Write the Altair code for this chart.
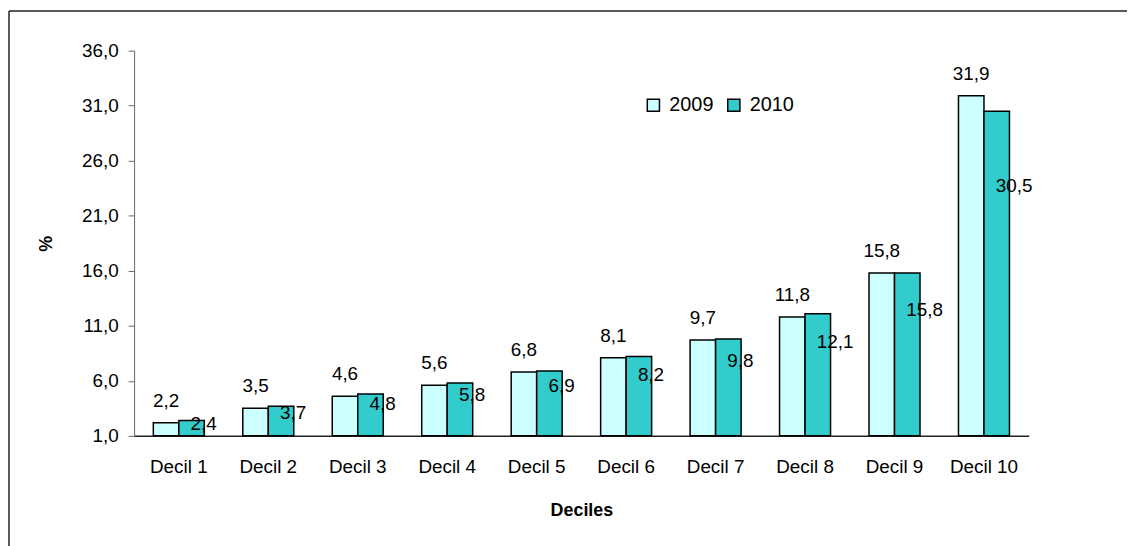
import altair as alt
import pandas as pd

deciles = ["Decil 1", "Decil 2", "Decil 3", "Decil 4", "Decil 5",
           "Decil 6", "Decil 7", "Decil 8", "Decil 9", "Decil 10"]
years = ["2009", "2010"]
values_2009 = [2.2, 3.5, 4.6, 5.6, 6.8, 8.1, 9.7, 11.8, 15.8, 31.9]
values_2010 = [2.4, 3.7, 4.8, 5.8, 6.9, 8.2, 9.8, 12.1, 15.8, 30.5]
y_ticks = [1, 6, 11, 16, 21, 26, 31, 36]

rows = []
for d, a, b in zip(deciles, values_2009, values_2010):
    rows.append({"decil": d, "year": "2009", "value": a})
    rows.append({"decil": d, "year": "2010", "value": b})
df = pd.DataFrame(rows)

FONT = "Liberation Sans"
axis_text = dict(labelFont=FONT, labelFontSize=19, labelColor="black",
                 titleFont=FONT, titleFontSize=18, titleFontWeight="bold",
                 titleColor="black")

x_enc = alt.X("decil:N", sort=deciles,
              scale=alt.Scale(paddingInner=0.43, paddingOuter=0.215),
              axis=alt.Axis(title="Deciles", labelAngle=0, ticks=False,
                            labelPadding=22, titlePadding=25,
                            domainColor="#222222", domainWidth=1.5, **axis_text))
y_scale = alt.Scale(domain=[1, 36], zero=False, nice=False)
color_scale = alt.Scale(domain=years, range=["#CCFFFF", "#33CCCC"])

base = alt.Chart(df)

bars = base.mark_bar(stroke="black", strokeWidth=1.5).encode(
    x=x_enc,
    xOffset=alt.XOffset("year:N", sort=years),
    y=alt.Y("value:Q", scale=y_scale,
            axis=alt.Axis(title="%", values=y_ticks, grid=False,
                          labelExpr="replace(format(datum.value, '.1f'), '.', ',')",
                          tickSize=6, labelPadding=10, titlePadding=26,
                          domainColor="#666666", tickColor="#666666",
                          titleAngle=-90, **axis_text)),
    y2=alt.datum(1),
    color=alt.Color("year:N", scale=color_scale,
                    legend=alt.Legend(title=None, orient="none", direction="horizontal",
                                      legendX=513, legendY=45, symbolType="square",
                                      symbolSize=150, symbolStrokeColor="black",
                                      symbolStrokeWidth=1.5, labelFontSize=20,
                                      labelFont=FONT, labelColor="black",
                                      columnPadding=10, labelOffset=6, padding=0)),
)

lab = base.transform_calculate(
    txt="replace(format(datum.value, '.1f'), '.', ',')",
    lab_y="1 + (datum.value - 1) * 0.77",
)

labels_2009 = lab.transform_filter(alt.datum.year == "2009").mark_text(
    baseline="middle", align="center", dy=-22, fontSize=19, font=FONT, color="black"
).encode(
    x=alt.X("decil:N", sort=deciles),
    xOffset=alt.XOffset("year:N", sort=years),
    y=alt.Y("value:Q", scale=y_scale),
    text="txt:N",
)

labels_2010 = lab.transform_filter(alt.datum.year == "2010").mark_text(
    baseline="middle", align="left", dx=-1, fontSize=19, font=FONT, color="black"
).encode(
    x=alt.X("decil:N", sort=deciles),
    xOffset=alt.XOffset("year:N", sort=years),
    y=alt.Y("lab_y:Q", scale=y_scale),
    text="txt:N",
)

frame_df = pd.DataFrame({"k": [0]})
frame_top = alt.Chart(frame_df).mark_rule(color="#222222", strokeWidth=1.5).encode(
    x=alt.value(-126), x2=alt.value(1010), y=alt.value(-40))
frame_left = alt.Chart(frame_df).mark_rule(color="#222222", strokeWidth=1.5).encode(
    x=alt.value(-126), y=alt.value(-40), y2=alt.value(500))

chart = alt.layer(bars, labels_2009, labels_2010, frame_top, frame_left).properties(
    width=901, height=388,
    autosize=alt.AutoSizeParams(type="none"),
    padding={"left": 127, "top": 41, "right": 99, "bottom": 109},
    background="white",
).configure_view(stroke=None)

chart.save("out.html", embed_options={"renderer": "svg", "actions": False})
